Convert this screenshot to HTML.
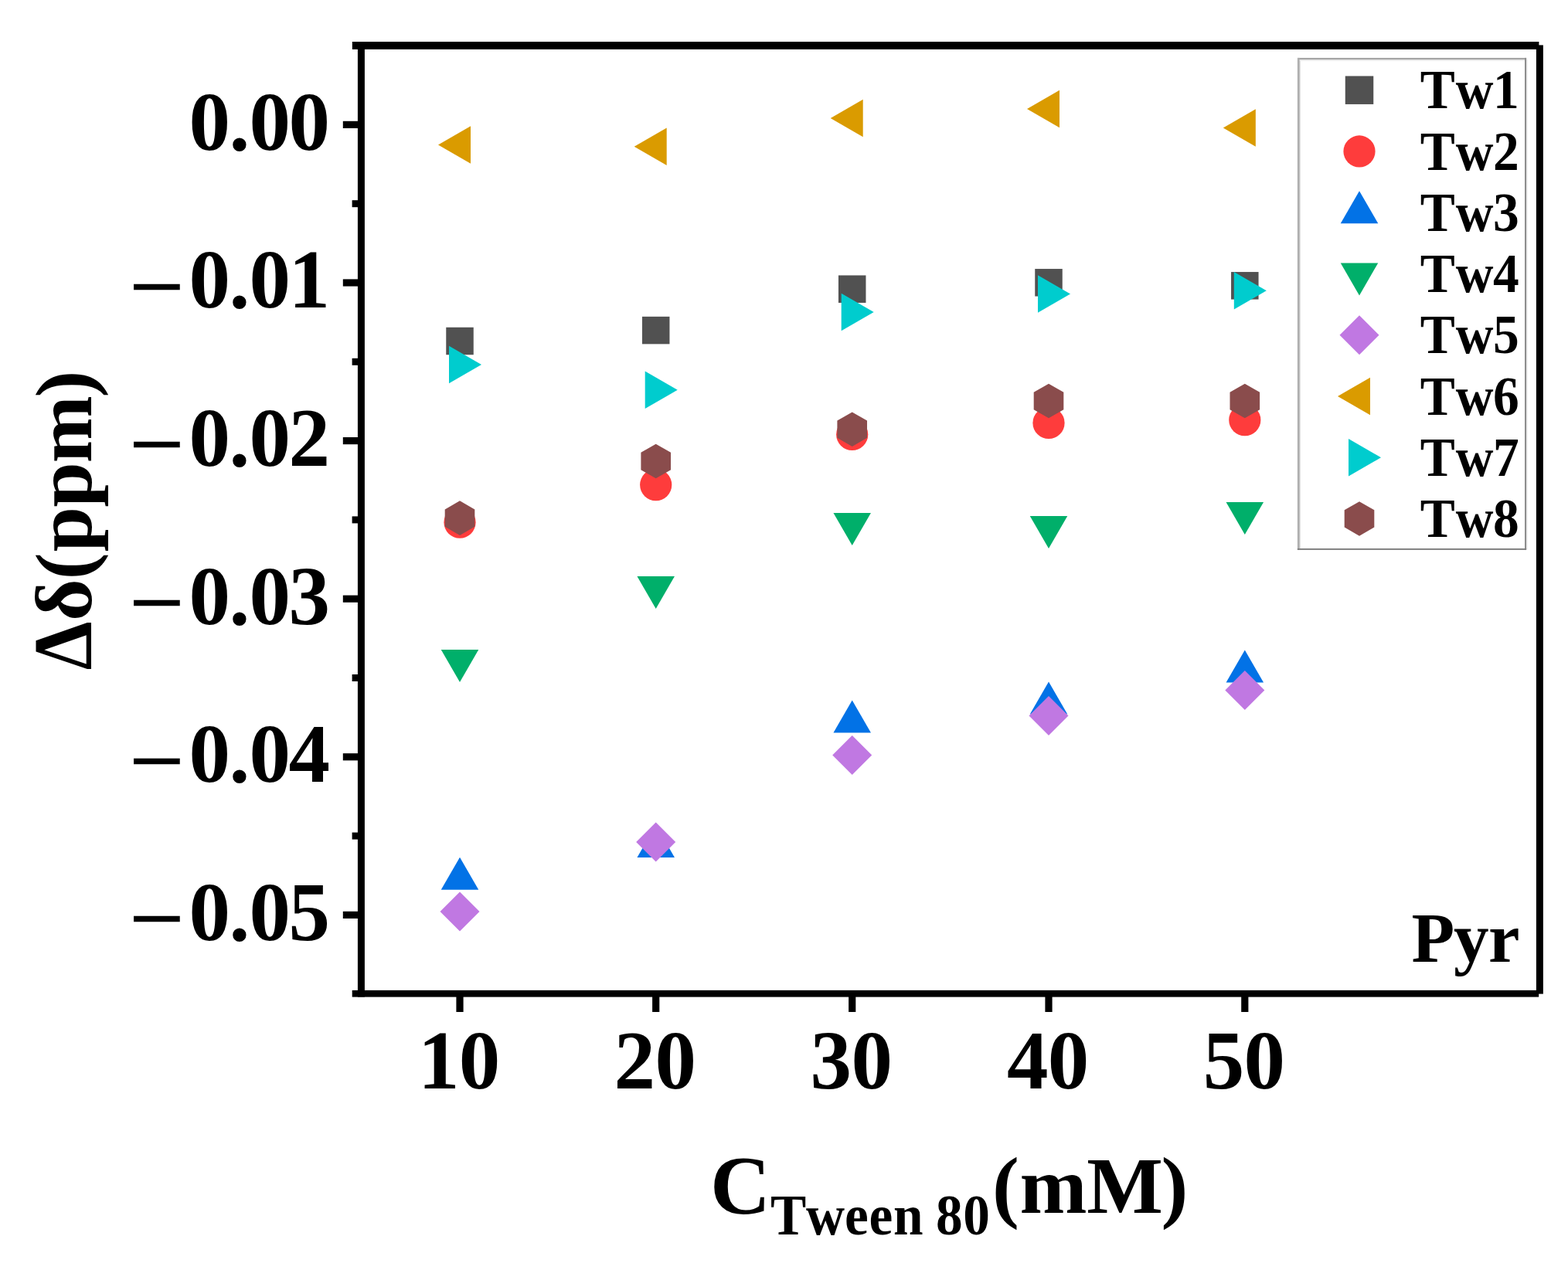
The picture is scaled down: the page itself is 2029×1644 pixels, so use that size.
<!DOCTYPE html><html><head><meta charset="utf-8"><title>Pyr chemical shift plot</title><style>html,body{margin:0;padding:0;background:#fff;overflow:hidden}svg{display:block}</style></head><body>
<svg width="2029" height="1644" viewBox="0 0 2029 1644">
<rect width="2029" height="1644" fill="#fff"/>
<rect x="577.25" y="423.75" width="35.5" height="35.5" fill="#515151"/>
<rect x="830.95" y="409.85" width="35.5" height="35.5" fill="#515151"/>
<rect x="1084.95" y="356.45" width="35.5" height="35.5" fill="#515151"/>
<rect x="1339.25" y="348.05" width="35.5" height="35.5" fill="#515151"/>
<rect x="1593.05" y="352.05" width="35.5" height="35.5" fill="#515151"/>
<circle cx="595" cy="676.2" r="20.6" fill="#FE3C3C"/>
<circle cx="848.7" cy="627.6" r="20.6" fill="#FE3C3C"/>
<circle cx="1102.7" cy="562.4" r="20.6" fill="#FE3C3C"/>
<circle cx="1357" cy="547.5" r="20.6" fill="#FE3C3C"/>
<circle cx="1610.8" cy="543.7" r="20.6" fill="#FE3C3C"/>
<polygon points="595,1109.7 619.25,1151.7 570.75,1151.7" fill="#0272E6"/>
<polygon points="848.7,1068 872.95,1110 824.45,1110" fill="#0272E6"/>
<polygon points="1102.7,906.4 1126.95,948.4 1078.45,948.4" fill="#0272E6"/>
<polygon points="1357,882.5 1381.25,924.5 1332.75,924.5" fill="#0272E6"/>
<polygon points="1610.8,841.5 1635.05,883.5 1586.55,883.5" fill="#0272E6"/>
<polygon points="595,882.9 619.25,840.9 570.75,840.9" fill="#00AF6A"/>
<polygon points="848.7,788 872.95,746 824.45,746" fill="#00AF6A"/>
<polygon points="1102.7,706.1 1126.95,664.1 1078.45,664.1" fill="#00AF6A"/>
<polygon points="1357,710.1 1381.25,668.1 1332.75,668.1" fill="#00AF6A"/>
<polygon points="1610.8,692.1 1635.05,650.1 1586.55,650.1" fill="#00AF6A"/>
<polygon points="595,1154.5 620.5,1180 595,1205.5 569.5,1180" fill="#C078E2"/>
<polygon points="848.7,1064.6 874.2,1090.1 848.7,1115.6 823.2,1090.1" fill="#C078E2"/>
<polygon points="1102.7,951.9 1128.2,977.4 1102.7,1002.9 1077.2,977.4" fill="#C078E2"/>
<polygon points="1357,901.1 1382.5,926.6 1357,952.1 1331.5,926.6" fill="#C078E2"/>
<polygon points="1610.8,867.9 1636.3,893.4 1610.8,918.9 1585.3,893.4" fill="#C078E2"/>
<polygon points="567,187.5 609,163.25 609,211.75" fill="#DA9B00"/>
<polygon points="820.7,189.85 862.7,165.6 862.7,214.1" fill="#DA9B00"/>
<polygon points="1074.7,153 1116.7,128.75 1116.7,177.25" fill="#DA9B00"/>
<polygon points="1329,140.9 1371,116.65 1371,165.15" fill="#DA9B00"/>
<polygon points="1582.8,165.6 1624.8,141.35 1624.8,189.85" fill="#DA9B00"/>
<polygon points="623,471.9 581,447.65 581,496.15" fill="#00CCCE"/>
<polygon points="876.7,504.8 834.7,480.55 834.7,529.05" fill="#00CCCE"/>
<polygon points="1130.7,403.9 1088.7,379.65 1088.7,428.15" fill="#00CCCE"/>
<polygon points="1385,380.4 1343,356.15 1343,404.65" fill="#00CCCE"/>
<polygon points="1638.8,376.2 1596.8,351.95 1596.8,400.45" fill="#00CCCE"/>
<polygon points="595,648.3 614.31,659.45 614.31,681.75 595,692.9 575.69,681.75 575.69,659.45" fill="#8A4C4C"/>
<polygon points="848.7,574.7 868.01,585.85 868.01,608.15 848.7,619.3 829.39,608.15 829.39,585.85" fill="#8A4C4C"/>
<polygon points="1102.7,533.4 1122.01,544.55 1122.01,566.85 1102.7,578 1083.39,566.85 1083.39,544.55" fill="#8A4C4C"/>
<polygon points="1357,496.7 1376.31,507.85 1376.31,530.15 1357,541.3 1337.69,530.15 1337.69,507.85" fill="#8A4C4C"/>
<polygon points="1610.8,496.7 1630.11,507.85 1630.11,530.15 1610.8,541.3 1591.49,530.15 1591.49,507.85" fill="#8A4C4C"/>
<g fill="#000">
<rect x="455.8" y="54" width="1535.6" height="9.9"/>
<rect x="462.9" y="54" width="9" height="1236.5"/>
<rect x="1987.9" y="58.4" width="9" height="1228.2"/>
<rect x="455.7" y="1281.9" width="1535.5" height="8.7"/>
<rect x="443.8" y="156.8" width="19.5" height="9.2"/>
<rect x="443.8" y="361.4" width="19.5" height="9.2"/>
<rect x="443.8" y="566" width="19.5" height="9.2"/>
<rect x="443.8" y="770.6" width="19.5" height="9.2"/>
<rect x="443.8" y="975.2" width="19.5" height="9.2"/>
<rect x="443.8" y="1179.8" width="19.5" height="9.2"/>
<rect x="455.6" y="259.2" width="7.6" height="9"/>
<rect x="455.6" y="463.8" width="7.6" height="9"/>
<rect x="455.6" y="668.4" width="7.6" height="9"/>
<rect x="455.6" y="873" width="7.6" height="9"/>
<rect x="455.6" y="1077.6" width="7.6" height="9"/>
<rect x="590.4" y="1290" width="9.2" height="20"/>
<rect x="844.1" y="1290" width="9.2" height="20"/>
<rect x="1098.1" y="1290" width="9.2" height="20"/>
<rect x="1352.4" y="1290" width="9.2" height="20"/>
<rect x="1606.2" y="1290" width="9.2" height="20"/>
</g>
<rect x="1679" y="77" width="4" height="633" fill="#E2E2E2"/>
<rect x="1679" y="77" width="296" height="1.8" fill="#ECECEC"/>
<rect x="1975" y="77" width="1.8" height="634" fill="#F0F0F0"/>
<rect x="1679" y="74.9" width="296.1" height="2.2" fill="#A4A4A4"/>
<rect x="1678.9" y="74.9" width="2.7" height="637" fill="#AFAFAF"/>
<rect x="1973" y="74.9" width="2.1" height="637" fill="#8E8E8E"/>
<rect x="1678.9" y="709.9" width="296.2" height="2" fill="#808080"/>
<rect x="1740.75" y="98.45" width="36.5" height="36.5" fill="#515151"/>
<text font-family="Liberation Serif, serif" font-weight="bold" font-size="71.8" transform="scale(0.94 1)" x="1955.16 2004.05 2055.4" y="140.4">Tw1</text>
<circle cx="1759" cy="195.95" r="20.6" fill="#FE3C3C"/>
<text font-family="Liberation Serif, serif" font-weight="bold" font-size="71.8" transform="scale(0.94 1)" x="1955.16 2004.05 2055.4" y="219.65">Tw2</text>
<polygon points="1759,247.2 1783.25,289.2 1734.75,289.2" fill="#0272E6"/>
<text font-family="Liberation Serif, serif" font-weight="bold" font-size="71.8" transform="scale(0.94 1)" x="1955.16 2004.05 2055.4" y="298.9">Tw3</text>
<polygon points="1759,382.45 1783.25,340.45 1734.75,340.45" fill="#00AF6A"/>
<text font-family="Liberation Serif, serif" font-weight="bold" font-size="71.8" transform="scale(0.94 1)" x="1955.16 2004.05 2055.4" y="378.15">Tw4</text>
<polygon points="1759,408.2 1784.5,433.7 1759,459.2 1733.5,433.7" fill="#C078E2"/>
<text font-family="Liberation Serif, serif" font-weight="bold" font-size="71.8" transform="scale(0.94 1)" x="1955.16 2004.05 2055.4" y="457.4">Tw5</text>
<polygon points="1731,512.95 1773,488.7 1773,537.2" fill="#DA9B00"/>
<text font-family="Liberation Serif, serif" font-weight="bold" font-size="71.8" transform="scale(0.94 1)" x="1955.16 2004.05 2055.4" y="536.65">Tw6</text>
<polygon points="1787,592.2 1745,567.95 1745,616.45" fill="#00CCCE"/>
<text font-family="Liberation Serif, serif" font-weight="bold" font-size="71.8" transform="scale(0.94 1)" x="1955.16 2004.05 2055.4" y="615.9">Tw7</text>
<polygon points="1759,649.15 1778.31,660.3 1778.31,682.6 1759,693.75 1739.69,682.6 1739.69,660.3" fill="#8A4C4C"/>
<text font-family="Liberation Serif, serif" font-weight="bold" font-size="71.8" transform="scale(0.94 1)" x="1955.16 2004.05 2055.4" y="695.15">Tw8</text>
<text font-family="Liberation Serif, serif" font-weight="bold" font-size="107" x="244.5 296.4 322.4 373.4" y="193.7">0.00</text>
<text font-family="Liberation Serif, serif" font-weight="bold" font-size="107" transform="translate(166.1 406.8) scale(1.2 1)">&#x2212;</text>
<text font-family="Liberation Serif, serif" font-weight="bold" font-size="107" x="244.5 296.4 322.4 373.4" y="398.3">0.01</text>
<text font-family="Liberation Serif, serif" font-weight="bold" font-size="107" transform="translate(166.1 611.4) scale(1.2 1)">&#x2212;</text>
<text font-family="Liberation Serif, serif" font-weight="bold" font-size="107" x="244.5 296.4 322.4 373.4" y="602.9">0.02</text>
<text font-family="Liberation Serif, serif" font-weight="bold" font-size="107" transform="translate(166.1 816) scale(1.2 1)">&#x2212;</text>
<text font-family="Liberation Serif, serif" font-weight="bold" font-size="107" x="244.5 296.4 322.4 373.4" y="807.5">0.03</text>
<text font-family="Liberation Serif, serif" font-weight="bold" font-size="107" transform="translate(166.1 1020.6) scale(1.2 1)">&#x2212;</text>
<text font-family="Liberation Serif, serif" font-weight="bold" font-size="107" x="244.5 296.4 322.4 373.4" y="1012.1">0.04</text>
<text font-family="Liberation Serif, serif" font-weight="bold" font-size="107" transform="translate(166.1 1225.2) scale(1.2 1)">&#x2212;</text>
<text font-family="Liberation Serif, serif" font-weight="bold" font-size="107" x="244.5 296.4 322.4 373.4" y="1216.7">0.05</text>
<text font-family="Liberation Serif, serif" font-weight="bold" font-size="107" x="540.9 593.7" y="1408.5">10</text>
<text font-family="Liberation Serif, serif" font-weight="bold" font-size="107" x="794.6 847.4" y="1408.5">20</text>
<text font-family="Liberation Serif, serif" font-weight="bold" font-size="107" x="1048.6 1101.4" y="1408.5">30</text>
<text font-family="Liberation Serif, serif" font-weight="bold" font-size="107" x="1302.9 1355.7" y="1408.5">40</text>
<text font-family="Liberation Serif, serif" font-weight="bold" font-size="107" x="1556.7 1609.5" y="1408.5">50</text>
<text font-family="Liberation Serif, serif" font-weight="bold" font-size="91.3" x="1826.4 1881 1926.05" y="1244.7">Pyr</text>
<text font-family="Liberation Serif, serif" font-weight="bold" font-size="108.5" transform="translate(117.5 866.1) rotate(-90) scale(0.93 1)" x="-1.48" y="0">&#x394;</text>
<text font-family="Liberation Serif, serif" font-weight="bold" font-size="104.5" transform="translate(117.5 866.1) rotate(-90)" x="62.47 115.9 151.9 209.5 266.8 351.5" y="0">&#x3B4;(ppm)</text>
<text font-family="Liberation Serif, serif" font-weight="bold" font-size="108" x="919" y="1571">C</text>
<text font-family="Liberation Serif, serif" font-weight="bold" font-size="73" transform="scale(0.95 1)" x="1049.49 1097.9 1150.46 1183.61 1216.78 1252 1274.74 1311.75" y="1598.4">Tween 80</text>
<text font-family="Liberation Serif, serif" font-weight="bold" font-size="104.5" x="1283.9 1319.6 1406.2 1502.5" y="1570.3">(mM)</text>
</svg></body></html>
